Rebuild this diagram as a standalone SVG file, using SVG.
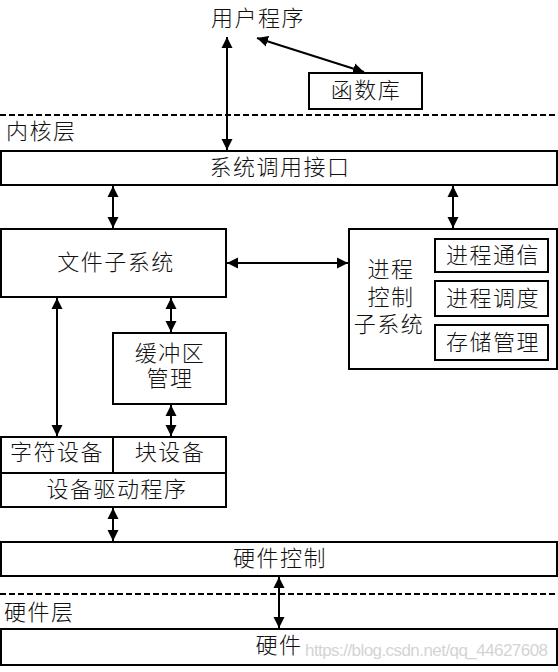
<svg xmlns="http://www.w3.org/2000/svg" width="558" height="672" viewBox="0 0 558 672">
<style>
.box{fill:#fff;stroke:#000;stroke-width:2}
.t{font-family:"Liberation Serif","Noto Sans CJK SC",serif;font-size:22px;font-weight:300;letter-spacing:1.5px;fill:#111;text-anchor:middle;dominant-baseline:central}
.l{text-anchor:start}
.c{stroke:#000;stroke-width:2;fill:none;marker-start:url(#ah);marker-end:url(#ah)}
.dash{stroke:#000;stroke-width:2;stroke-dasharray:6 3}
.wm{font-family:"Liberation Sans",Arial,sans-serif;font-size:17px;fill:#d4d4d4}
</style>
<defs>
<marker id="ah" markerUnits="userSpaceOnUse" markerWidth="12" markerHeight="12" viewBox="0 0 12 12" refX="11" refY="6" orient="auto-start-reverse">
<path d="M0,0.5 L11,6 L0,11.5 z" fill="#000"/>
</marker>
</defs>
<line class="dash" x1="0" y1="115" x2="558" y2="115"/>
<line class="dash" x1="0" y1="594" x2="558" y2="594"/>
<g id="user"><text class="t" x="258" y="18">用户程序</text></g>
<g id="lib"><rect class="box" x="309" y="73" width="113" height="36"/><text class="t" x="366" y="90">函数库</text></g>
<g id="kernel-label"><text class="t l" x="6" y="131">内核层</text></g>
<g id="syscall"><rect class="box" x="1" y="151" width="556" height="34"/><text class="t" x="280" y="167">系统调用接口</text></g>
<g id="fs"><rect class="box" x="1" y="229" width="225" height="68"/><text class="t" x="116" y="262">文件子系统</text></g>
<g id="buffer"><rect class="box" x="113" y="333" width="113" height="71"/><text class="t" x="170" y="353">缓冲区</text><text class="t" x="170" y="378">管理</text></g>
<g id="proc"><rect class="box" x="349" y="229" width="208" height="140"/><text class="t" x="391" y="269">进程</text><text class="t" x="391" y="297">控制</text><text class="t" x="389" y="324">子系统</text></g>
<g id="ipc"><rect class="box" x="435" y="239" width="113" height="33"/><text class="t" x="493" y="255.5">进程通信</text></g>
<g id="sched"><rect class="box" x="435" y="281" width="113" height="35"/><text class="t" x="493" y="298.5">进程调度</text></g>
<g id="mem"><rect class="box" x="435" y="325" width="113" height="35"/><text class="t" x="493" y="342.5">存储管理</text></g>
<g id="chardev"><rect class="box" x="1" y="437" width="112" height="36"/><text class="t" x="57" y="452">字符设备</text></g>
<g id="blockdev"><rect class="box" x="113" y="437" width="113" height="36"/><text class="t" x="170" y="452">块设备</text></g>
<g id="driver"><rect class="box" x="1" y="473" width="225" height="34"/><text class="t" x="117" y="489.5">设备驱动程序</text></g>
<g id="hwctl"><rect class="box" x="1" y="542" width="556" height="34"/><text class="t" x="280" y="558.5">硬件控制</text></g>
<g id="hw-label"><text class="t l" x="4" y="612">硬件层</text></g>
<g id="hw"><rect class="box" x="1" y="629" width="556" height="36"/><text class="t" x="279" y="645">硬件</text></g>
<g id="connectors">
<line class="c" x1="227" y1="37" x2="227" y2="150"/>
<line class="c" x1="257" y1="38" x2="364" y2="72"/>
<line class="c" x1="113" y1="186" x2="113" y2="228"/>
<line class="c" x1="453" y1="186" x2="453" y2="228"/>
<line class="c" x1="227" y1="263" x2="348" y2="263"/>
<line class="c" x1="57" y1="298" x2="57" y2="436"/>
<line class="c" x1="171" y1="298" x2="171" y2="332"/>
<line class="c" x1="171" y1="405" x2="171" y2="436"/>
<line class="c" x1="113" y1="508" x2="113" y2="541"/>
<line class="c" x1="279" y1="577" x2="279" y2="628"/>
</g>
<text class="wm" x="305" y="656" textLength="243">https://blog.csdn.net/qq_44627608</text>
</svg>
